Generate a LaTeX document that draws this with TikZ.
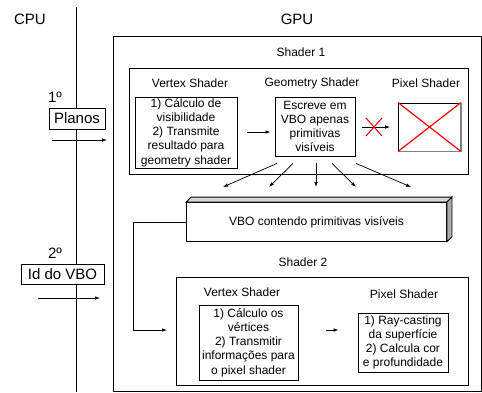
\documentclass[tikz,border=0pt]{standalone}
\usepackage{fontspec}
\setmainfont{Liberation Sans}
\usetikzlibrary{arrows.meta, shapes.misc}
\tikzset{
    txt/.style={font=\fontsize{12}{14.2}\selectfont, inner sep=0pt},
    cpu/.style={font=\fontsize{15}{17}\selectfont, inner sep=0pt},
    shbox/.style={draw, fill=white, align=center, inner sep=1pt, font=\fontsize{12}{14.2}\selectfont},
    frame/.style={draw, inner sep=0pt},
    arr/.style={-{Latex[length=5pt,width=3.5pt]}, line width=.7pt}
}
\begin{document}
\begin{tikzpicture}[x=1pt, y=-1pt, line width=.8pt]
        \useasboundingbox (0,0) rectangle (482,392);

        % CPU side
        \coordinate (top) at (76,7);
        \coordinate (bot) at (76,392);
        \draw (top) -- (bot);
        \node[cpu] at (30,19) (cpulbl) {CPU};
        \node[cpu] at (297,19) (gpulbl) {GPU};

        \node[cpu] at (55,97) (first) {1º};
        \node[frame, cpu, fill=white, minimum width=56, minimum height=21] at (77,118.5) (planos) {Planos};
        \coordinate (a1) at (52,140);
        \coordinate (b1) at (107,140);
        \draw[arr] (a1) -- (b1);

        \node[cpu] at (55,253) (second) {2º};
        \node[frame, cpu, fill=white, minimum width=83, minimum height=20] at (62.5,274) (idvbo) {Id do VBO};
        \coordinate (a2) at (38,298);
        \coordinate (b2) at (100,298);
        \draw[arr] (a2) -- (b2);

        % GPU frame
        \node[frame, minimum width=368, minimum height=355] at (297,213.5) (gpu) {};

        % shader 1
        \node[txt] at (301,52) (s1lbl) {Shader 1};
        \node[frame, minimum width=339, minimum height=106] at (298.5,121) (shader1) {};
        \node[txt] at (190,83) (vslbl1) {Vertex Shader};
        \node[txt] at (312,83) (gslbl) {Geometry Shader};
        \node[txt] at (426,83) (pslbl1) {Pixel Shader};

        \node[shbox, minimum width=102, minimum height=71] at (186,132.5) (vs1)
            {1) Cálculo de\\visibilidade\\2) Transmite\\resultado para\\geometry shader};
        \node[shbox, minimum width=80, minimum height=59] at (315,126.5) (gs)
            {Escreve em\\VBO apenas\\primitivas\\visíveis};
        \node[frame, minimum width=62, minimum height=48] at (429.5,127) (ps1) {};
        \draw[gray, line width=1.6pt] (ps1.north east) -- (ps1.south east) -- (ps1.south west);
        \draw[red, line width=1.2pt] (ps1.north west) -- (ps1.south east);
        \draw[red, line width=1.2pt] (ps1.south west) -- (ps1.north east);

        \draw[arr, shorten <=10pt, shorten >=4pt] (vs1.east |- 0,132) -- (gs.west |- 0,132);
        \draw[arr, shorten <=7pt, shorten >=8pt] (gs.east |- 0,127) -- (ps1.west |- 0,127);
        \node[cross out, draw=red, line width=1pt, minimum width=15, minimum height=17] at (374,127) (nope) {};

        % spread to the VBO
        \foreach \dx/\ex [count=\i] in {-38/223, -22/269, 1/316, 17/356, 41/411} {
            \coordinate (e\i) at (\ex,187);
            \draw[arr] ([xshift=\dx pt, yshift=-7pt]gs.south) -- (e\i);
        }

        % VBO
        \node[shbox, minimum width=260, minimum height=39] at (316.5,222) (vbo) {VBO contendo primitivas visíveis};
        \draw[fill=gray!30] (vbo.north west) -- ++(5,-5) -- ([shift={(5,-5)}]vbo.north east) -- (vbo.north east) -- cycle;
        \draw[fill=gray!65] (vbo.north east) -- ++(5,-5) -- ([shift={(5,-5)}]vbo.south east) -- (vbo.south east) -- cycle;

        % shader 2
        \node[txt] at (303,262) (s2lbl) {Shader 2};
        \node[frame, minimum width=292, minimum height=108] at (322,331) (shader2) {};
        \node[txt] at (242,292) (vslbl2) {Vertex Shader};
        \node[txt] at (404,294) (pslbl2) {Pixel Shader};

        \node[shbox, minimum width=99, minimum height=75] at (248.5,342.5) (vs2)
            {1) Cálculo os\\vértices\\2) Transmitir\\informações para\\o pixel shader};
        \node[shbox, minimum width=90, minimum height=59] at (403,342.5) (ps2)
            {1) Ray-casting\\da superfície\\2) Calcula cor\\e profundidade};
        \draw[arr, shorten <=28pt, shorten >=19pt] (vs2.east |- 0,330) -- (ps2.west |- 0,330);

        \coordinate (s2in) at (167,330);
        \draw[arr] (vbo.west) -- ++(-53,0) |- (s2in);
    \end{tikzpicture}
\end{document}
